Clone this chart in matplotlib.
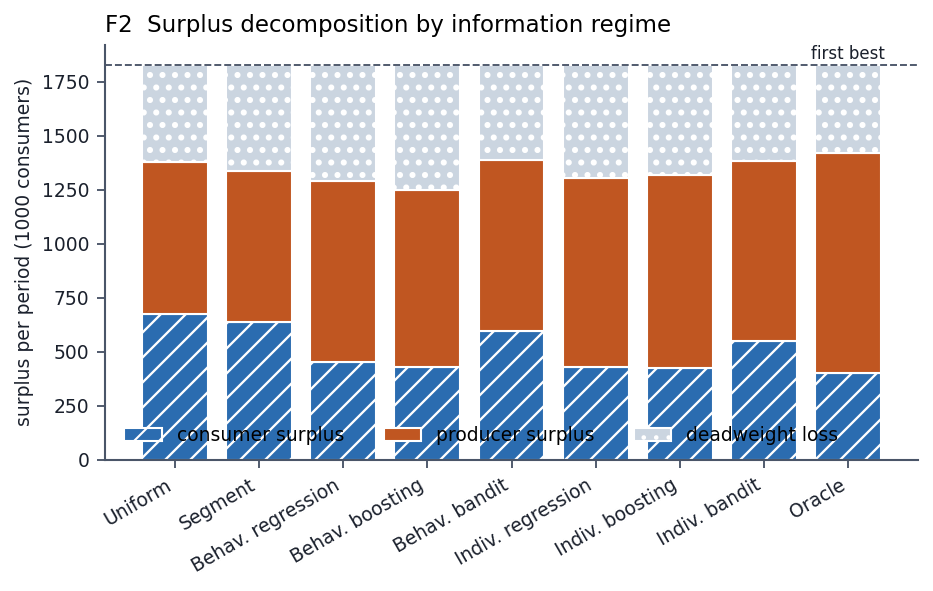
import matplotlib.pyplot as plt
import numpy as np

regimes = ['Uniform', 'Segment', 'Behav. regression', 'Behav. boosting', 'Behav. bandit',
           'Indiv. regression', 'Indiv. boosting', 'Indiv. bandit', 'Oracle']
consumer = [674, 637, 452, 430, 596, 430, 426, 549, 403]
total = [1381, 1339, 1293, 1251, 1390, 1303, 1318, 1384, 1421]
first_best = 1830

producer = [t - c for t, c in zip(total, consumer)]
deadweight = [first_best - t for t in total]

ink = '#4a5568'
txt = '#1a202c'
plt.rcParams['hatch.color'] = 'white'

fig, ax = plt.subplots(figsize=(6.22, 3.94), dpi=150)
x = np.arange(len(regimes))
w = 0.78
with plt.rc_context({'hatch.linewidth': 1.1}):
    ax.bar(x, consumer, w, color='#2b6cb0', edgecolor='white', linewidth=1.0,
           hatch='//', label='consumer surplus')
ax.bar(x, producer, w, bottom=consumer, color='#c05621', edgecolor='white',
       linewidth=1.0, label='producer surplus')
with plt.rc_context({'hatch.linewidth': 1.7}):
    ax.bar(x, deadweight, w, bottom=total, color='#cbd5e0', edgecolor='white',
           linewidth=1.0, hatch='..', label='deadweight loss')

ax.axhline(first_best, color=ink, linestyle='--', linewidth=0.9)
ax.text(8, first_best + 6, 'first best', ha='center', va='bottom', fontsize=8, color=txt)

ax.set_ylim(0, 1921)
ax.set_xticks(x)
ax.tick_params(colors=ink, length=4, width=0.9)
ax.set_xticklabels(regimes, rotation=30, ha='right', fontsize=9, color=txt)
ax.tick_params(axis='y', labelsize=9, labelcolor=txt)
ax.set_ylabel('surplus per period (1000 consumers)', fontsize=9, color=txt)
ax.set_title('F2  Surplus decomposition by information regime', loc='left', fontsize=11)
for s in ['top', 'right']:
    ax.spines[s].set_visible(False)
for s in ['left', 'bottom']:
    ax.spines[s].set_color(ink)
    ax.spines[s].set_linewidth(1.0)

ax.legend(ncol=3, loc='lower center', bbox_to_anchor=(0.463, -0.005), frameon=False,
          fontsize=9, handlelength=2.0, columnspacing=2.1)

fig.subplots_adjust(left=0.1125, right=0.984, top=0.924, bottom=0.222)
fig.savefig('out.png')
